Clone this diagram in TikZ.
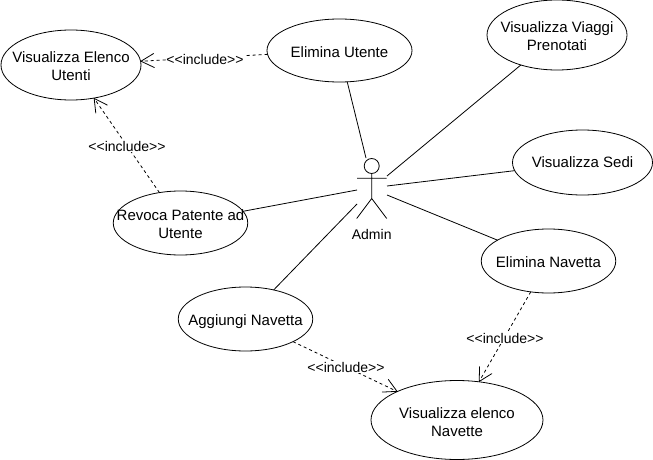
\documentclass[tikz,border=0pt]{standalone}
\usepackage{fontspec}
\setmainfont{Liberation Sans}
\usetikzlibrary{shapes.geometric,arrows.meta}
\newcommand{\uctext}[2][-6pt]{\makebox[0pt]{\smash{\raisebox{#1}{\begin{tabular}{@{}c@{}}#2\end{tabular}}}}}
\tikzset{
  uc/.style 2 args={draw=black,fill=white,ellipse,line width=.8pt,inner sep=0pt,outer sep=0pt,
    minimum width=#1 pt,minimum height=#2 pt,font=\fontsize{15}{18}\selectfont},
  assoc/.style={line width=.8pt,draw=black},
  incl/.style={line width=.8pt,draw=black,dash pattern=on 3pt off 3pt,
    -{Straight Barb[length=13pt,width=14pt,line width=.8pt,round,sep=0pt]}},
  incllabel/.style={fill=white,inner sep=.5pt,font=\fontsize{14}{16}\selectfont},
  stick/.style={line width=.8pt,draw=black},
}
\begin{document}
\begin{tikzpicture}[x=1pt,y=-1pt]
\useasboundingbox (0,0) rectangle (653,460);
\node[uc={140}{70}] (elenco) at (71,65) {\uctext[-7pt]{Visualizza Elenco\\Utenti}};
\node[uc={145}{63}] (utente) at (339.5,50.5) {\uctext[-7.5pt]{Elimina Utente}};
\node[uc={140}{70}] (viaggi) at (557,35) {\uctext[-7pt]{Visualizza Viaggi\\Prenotati}};
\node[uc={140}{65}] (sedi) at (582.5,162.5) {\uctext[-5pt]{Visualizza Sedi}};
\node[uc={134.5}{64}] (revoca) at (180.5,223) {\uctext{Revoca Patente ad\\Utente}};
\node[uc={134.5}{64}] (elnav) at (548.5,261) {\uctext{Elimina Navetta}};
\node[uc={134.5}{64}] (agg) at (245.5,319) {\uctext{Aggiungi Navetta}};
\node[uc={172}{79}] (elnavette) at (457,420) {\uctext[-7pt]{Visualizza elenco\\Navette}};
% actor
\node[stick,circle,draw,inner sep=0pt,minimum size=15pt] (head) at (371.7,166) {};
\coordinate (neck) at (371.7,173.5);
\coordinate (hip) at (371.7,198.5);
\coordinate (armL) at (357,178.3);
\coordinate (armR) at (386.7,178.3);
\coordinate (legL) at (356.7,218.5);
\coordinate (legR) at (386.7,218.5);
\draw[stick] (neck) -- (hip) (armL) -- (armR) (legL) -- (hip) -- (legR);
\node[font=\fontsize{14}{16}\selectfont,inner sep=0pt] (admin) at (371.7,234) {Admin};
\coordinate (aTop) at (366,158);
\coordinate (aR1) at (387,176);
\coordinate (aR2) at (387,186);
\coordinate (aR3) at (387,195);
\coordinate (aL1) at (357,190);
\coordinate (aL2) at (357,204);
% associations
\draw[assoc] (aTop) -- (utente);
\draw[assoc] (aR1) -- (viaggi);
\draw[assoc] (aR2) -- (sedi);
\draw[assoc] (aR3) -- (elnav);
\draw[assoc] (aL1) -- (revoca);
\draw[assoc] (aL2) -- (agg);
% includes
\draw[incl] (utente) -- (elenco) node[incllabel,at={(205,59)}] (l1) {<{}<include>{}>};
\draw[incl] (revoca) -- (elenco) node[incllabel,at={(127,146)}] (l2) {<{}<include>{}>};
\draw[incl] (elnav) -- (elnavette) node[incllabel,at={(505,338)}] (l3) {<{}<include>{}>};
\draw[incl] (agg) -- (elnavette) node[incllabel,at={(346,367)}] (l4) {<{}<include>{}>};
\end{tikzpicture}
\end{document}
